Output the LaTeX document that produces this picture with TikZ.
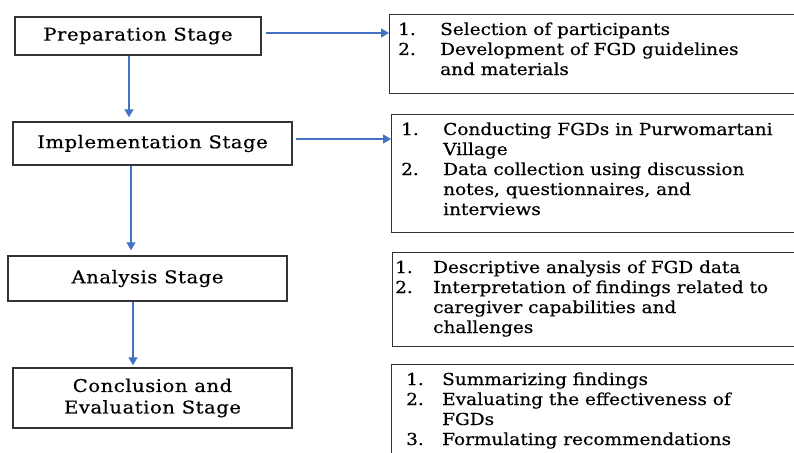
\documentclass[tikz,border=0pt]{standalone}
\usepackage{fontspec}
\setmainfont[FakeStretch=1.12,FakeBold=0.4]{DejaVu Serif}
\newfontfamily\stagefont[FakeStretch=1.12,LetterSpace=3,FakeBold=0.5]{DejaVu Serif}
\usetikzlibrary{arrows.meta,calc}
\newcommand{\numitem}[2]{\makebox[#1][l]{#2}}
\begin{document}
\begin{tikzpicture}[x=1pt,y=-1pt,
  stagebox/.style={draw=black!80,line width=1.4pt,rectangle,inner sep=0pt,align=center,
    font=\stagefont\fontsize{17.5}{21.5}\selectfont},
  listbox/.style={draw=black!80,line width=1.4pt,rectangle,inner sep=0pt,anchor=north west,minimum width=430pt},
  listtext/.style={anchor=base west,inner sep=0pt,font=\fontsize{16.5}{20}\selectfont},
  arr/.style={draw={rgb,255:red,68;green,114;blue,196},line width=1.3pt,
    -{Triangle[width=9pt,length=8pt]},fill={rgb,255:red,68;green,114;blue,196}}]
\clip (0,0) rectangle (794,452);
\fill[white] (0,0) rectangle (794,452);
% left stage boxes
\node[stagebox,minimum width=246pt,minimum height=38pt] (prep) at (138,36) {Preparation Stage};
\node[stagebox,minimum width=279pt,minimum height=43pt] (impl) at (152.5,143.5) {Implementation Stage};
\node[stagebox,minimum width=279pt,minimum height=45pt] (anal) at (147.5,278.5) {Analysis Stage};
\node[stagebox,minimum width=279pt,minimum height=60pt] (conc) at (152.5,398) {Conclusion and\\Evaluation Stage};
% right list boxes
\node[listbox,minimum height=79pt] (r1) at (389,14) {};
\node[listbox,minimum height=118pt] (r2) at (391,114) {};
\node[listbox,minimum height=94pt] (r3) at (392,252) {};
\node[listbox,minimum height=120pt] (r4) at (391,364) {};
% list texts
\node[listtext] (t1) at (398,35) {\begin{tabular}[t]{@{}l@{}}
\numitem{42pt}{1.}Selection of participants\\
\numitem{42pt}{2.}Development of FGD guidelines\\
\numitem{42pt}{}and materials\end{tabular}};
\node[listtext] (t2) at (401,135) {\begin{tabular}[t]{@{}l@{}}
\numitem{42pt}{1.}Conducting FGDs in Purwomartani\\
\numitem{42pt}{}Village\\
\numitem{42pt}{2.}Data collection using discussion\\
\numitem{42pt}{}notes, questionnaires, and\\
\numitem{42pt}{}interviews\end{tabular}};
\node[listtext] (t3) at (395,273) {\begin{tabular}[t]{@{}l@{}}
\numitem{38pt}{1.}Descriptive analysis of FGD data\\
\numitem{38pt}{2.}Interpretation of findings related to\\
\numitem{38pt}{}caregiver capabilities and\\
\numitem{38pt}{}challenges\end{tabular}};
\node[listtext] (t4) at (406,385) {\begin{tabular}[t]{@{}l@{}}
\numitem{36pt}{1.}Summarizing findings\\
\numitem{36pt}{2.}Evaluating the effectiveness of\\
\numitem{36pt}{}FGDs\\
\numitem{36pt}{3.}Formulating recommendations\end{tabular}};
% arrows
\draw[arr,shorten >=4pt] ([xshift=-9pt]prep.south) -- ([xshift=-9pt]prep.south |- impl.north);
\draw[arr,shorten >=5pt] ([xshift=-21.5pt]impl.south) -- ([xshift=-21.5pt]impl.south |- anal.north);
\draw[arr,shorten >=2pt] ([xshift=-14.5pt]anal.south) -- ([xshift=-14.5pt]anal.south |- conc.north);
\draw[arr,shorten <=4pt] ([yshift=3pt]prep.east) -- ([yshift=3pt]prep.east -| r1.west);
\draw[arr,shorten <=3pt] ([yshift=4.5pt]impl.east) -- ([yshift=4.5pt]impl.east -| r2.west);
\end{tikzpicture}
\end{document}
